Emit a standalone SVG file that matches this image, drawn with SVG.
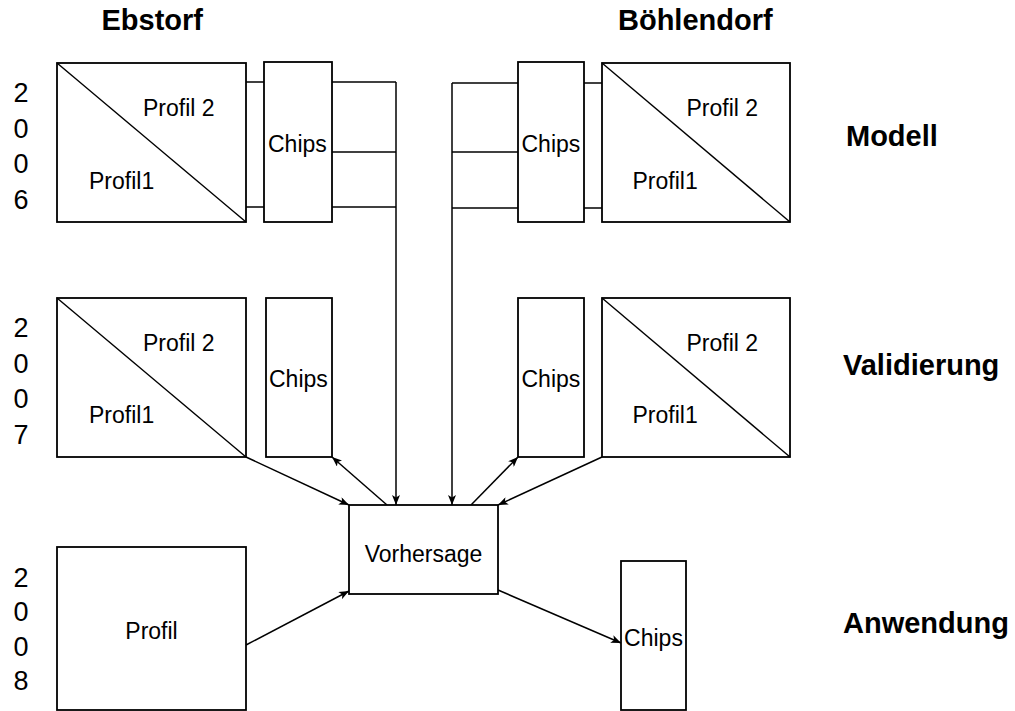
<svg xmlns="http://www.w3.org/2000/svg" width="1015" height="711" viewBox="0 0 1015 711">
<style>
.box{fill:#fff;stroke:#000;stroke-width:1.8}
.diag{stroke:#000;stroke-width:1.4;fill:none}
.t{font-family:"Liberation Sans",Arial,sans-serif;font-size:23px;fill:#000}
.y{font-family:"Liberation Sans",Arial,sans-serif;font-size:27px;fill:#000}
.b{font-family:"Liberation Sans",Arial,sans-serif;font-size:29px;font-weight:bold;fill:#000}
.c{stroke:#000;stroke-width:1.5;fill:none}
.a{stroke:#000;stroke-width:1.5;fill:none;marker-end:url(#arr)}
</style>
<defs>
<marker id="arr" viewBox="0 0 10 8" refX="10" refY="4" markerWidth="10" markerHeight="8" markerUnits="userSpaceOnUse" orient="auto">
<path d="M0,0 L10,4 L0,8 L2.5,4 z" fill="#000"/>
</marker>
</defs>
<rect width="1015" height="711" fill="#fff"/>
<g id="labels">
<text class="b" x="101.5" y="30">Ebstorf</text>
<text class="b" x="618" y="30">Böhlendorf</text>
<text class="b" x="846" y="146">Modell</text>
<text class="b" x="843" y="375">Validierung</text>
<text class="b" x="843" y="633">Anwendung</text>
</g>
<g id="years" class="y" text-anchor="middle">
<text x="21" y="102">2</text><text x="21" y="137.5">0</text><text x="21" y="173">0</text><text x="21" y="208.5">6</text>
<text x="21" y="337">2</text><text x="21" y="372.5">0</text><text x="21" y="408">0</text><text x="21" y="443.5">7</text>
<text x="21" y="586.5">2</text><text x="21" y="621">0</text><text x="21" y="655.5">0</text><text x="21" y="690">8</text>
</g>
<g id="connectors">
<line class="c" x1="246" y1="82" x2="264" y2="82"/>
<line class="c" x1="246" y1="207" x2="264" y2="207"/>
<line class="c" x1="332" y1="82" x2="396" y2="82"/>
<line class="c" x1="332" y1="152" x2="396" y2="152"/>
<line class="c" x1="332" y1="207" x2="396" y2="207"/>
<line class="a" x1="396" y1="82" x2="396" y2="505"/>
<line class="c" x1="584" y1="83" x2="602" y2="83"/>
<line class="c" x1="584" y1="208" x2="602" y2="208"/>
<line class="c" x1="452" y1="83" x2="518" y2="83"/>
<line class="c" x1="452" y1="152" x2="518" y2="152"/>
<line class="c" x1="452" y1="208" x2="518" y2="208"/>
<line class="a" x1="452" y1="83" x2="452" y2="505"/>
<line class="a" x1="246" y1="457" x2="349" y2="505"/>
<line class="a" x1="387" y1="505" x2="332" y2="457"/>
<line class="a" x1="471" y1="505" x2="518" y2="457"/>
<line class="a" x1="602" y1="457" x2="498" y2="505"/>
<line class="a" x1="246" y1="645" x2="349" y2="591"/>
<line class="a" x1="498" y1="590" x2="621" y2="643"/>
</g>
<g id="ebstorf-2006-profile">
<rect class="box" x="57" y="63" width="189" height="159"/>
<line class="diag" x1="57" y1="63" x2="246" y2="222"/>
<text class="t" x="143" y="116">Profil 2</text>
<text class="t" x="89" y="189">Profil1</text>
</g>
<g id="ebstorf-2006-chips">
<rect class="box" x="264" y="62" width="68" height="160"/>
<text class="t" x="268" y="152">Chips</text>
</g>
<g id="boehlendorf-2006-chips">
<rect class="box" x="518" y="62" width="66" height="160"/>
<text class="t" x="521.5" y="152">Chips</text>
</g>
<g id="boehlendorf-2006-profile">
<rect class="box" x="602" y="63" width="188" height="159"/>
<line class="diag" x1="602" y1="63" x2="790" y2="222"/>
<text class="t" x="686.5" y="116">Profil 2</text>
<text class="t" x="632.5" y="189">Profil1</text>
</g>
<g id="ebstorf-2007-profile">
<rect class="box" x="57" y="298" width="189" height="159"/>
<line class="diag" x1="57" y1="298" x2="246" y2="457"/>
<text class="t" x="143" y="351">Profil 2</text>
<text class="t" x="89" y="423">Profil1</text>
</g>
<g id="ebstorf-2007-chips">
<rect class="box" x="266" y="298" width="66" height="159"/>
<text class="t" x="269" y="387">Chips</text>
</g>
<g id="boehlendorf-2007-chips">
<rect class="box" x="518" y="298" width="66" height="159"/>
<text class="t" x="521.5" y="387">Chips</text>
</g>
<g id="boehlendorf-2007-profile">
<rect class="box" x="602" y="298" width="188" height="159"/>
<line class="diag" x1="602" y1="298" x2="790" y2="457"/>
<text class="t" x="686.5" y="351">Profil 2</text>
<text class="t" x="632.5" y="423">Profil1</text>
</g>
<g id="vorhersage">
<rect class="box" x="349" y="505" width="149" height="89"/>
<text class="t" x="423.5" y="562" text-anchor="middle">Vorhersage</text>
</g>
<g id="profil-2008">
<rect class="box" x="57" y="547" width="189" height="163"/>
<text class="t" x="151.5" y="639" text-anchor="middle">Profil</text>
</g>
<g id="chips-2008">
<rect class="box" x="621" y="561" width="65" height="149"/>
<text class="t" x="653.5" y="646" text-anchor="middle">Chips</text>
</g>
</svg>
